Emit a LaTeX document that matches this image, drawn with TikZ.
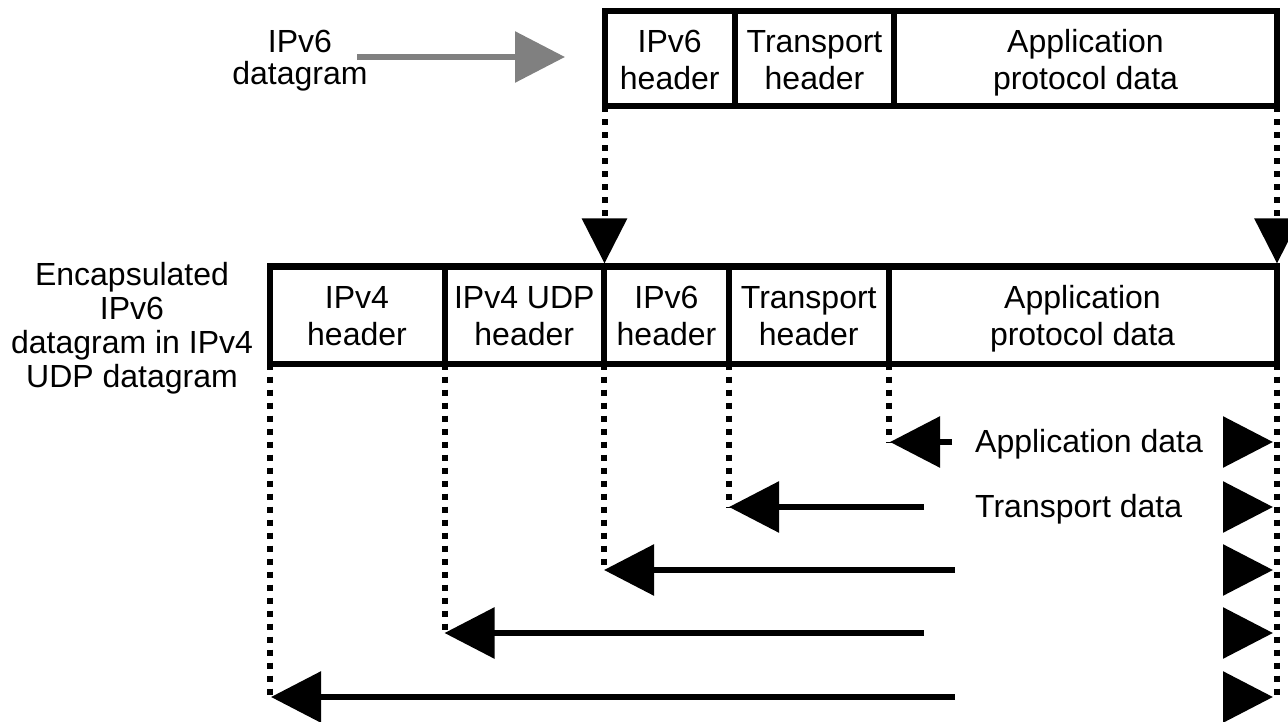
\documentclass[tikz,border=0pt]{standalone}
\usepackage{fontspec}
\setmainfont{Liberation Sans}
\usetikzlibrary{arrows.meta}
\definecolor{feedgray}{RGB}{128,128,128}
% centred multi-line text whose baseline is that of its last line
\newcommand\cellstack[1]{\begin{tabular}[b]{@{}c@{}}#1\end{tabular}}
\tikzset{
  every node/.style={inner sep=0pt, font=\fontsize{32}{37}\selectfont},
  frame/.style={line width=6pt, line join=miter},
  guide/.style={line width=6pt, dash pattern=on 6pt off 7pt},
  bighead/.style={-{Triangle[length=50pt,width=50pt]}},
  downhead/.style={-{Triangle[length=45pt,width=44pt]}},
  span/.style={line width=6pt, bighead},
  loose/.style={font=\fontsize{32}{34}\selectfont},
  tight/.style={font=\fontsize{32}{32}\selectfont},
}
\begin{document}
\begin{tikzpicture}[x=1pt,y=-1pt]
\useasboundingbox (0,0) rectangle (1288,722);

% ---- IPv6 datagram (top) ----
\draw[frame] (604.5,11) rectangle (1277,106.5);
\draw[frame] (735,11) -- (735,106.5) (894,11) -- (894,106.5);
\node[anchor=base] (t6) at (669.75,90) {\cellstack{IPv6\\header}};
\node[anchor=base] (ttr) at (814.5,90) {\cellstack{Transport\\header}};
\node[anchor=base] (tap) at (1085.5,90) {\cellstack{Application\\protocol data}};

\node[anchor=base, tight] (in6) at (300,85) {\cellstack{IPv6\\datagram}};
\coordinate (feedA) at (357,57);
\coordinate (feedB) at (565,57);
\draw[span, draw=feedgray, fill=feedgray] (feedA) -- (feedB);

% ---- encapsulated datagram (bottom) ----
\draw[frame] (269.5,266.5) rectangle (1276.5,363.5);
\draw[frame] (444.5,266.5) -- (444.5,363.5) (604,266.5) -- (604,363.5)
             (729,266.5) -- (729,363.5) (888.5,266.5) -- (888.5,363.5);
\node[anchor=base] (b4) at (357,345) {\cellstack{IPv4\\header}};
\node[anchor=base] (bud) at (524.25,345) {\cellstack{IPv4 UDP\\header}};
\node[anchor=base] (b6) at (666.5,345) {\cellstack{IPv6\\header}};
\node[anchor=base] (btr) at (808.75,345) {\cellstack{Transport\\header}};
\node[anchor=base] (bap) at (1082.5,345) {\cellstack{Application\\protocol data}};

\node[anchor=base, loose] (enc) at (132,387)
  {\cellstack{Encapsulated\\IPv6\\datagram in IPv4\\UDP datagram}};

% ---- mapping of the IPv6 datagram into the payload ----
\coordinate (topL) at (604.5,106.5);
\coordinate (topR) at (1277,106.5);
\coordinate (hitL) at (604.5,263.5);
\coordinate (hitR) at (1277,263.5);
\draw[guide, downhead] (topL) -- (hitL);
\draw[guide, downhead] (topR) -- (hitR);

% ---- extent of each layer's data ----
\coordinate (f0) at (269.5,363.5);
\coordinate (f1) at (444.5,363.5);
\coordinate (f2) at (604,363.5);
\coordinate (f3) at (729,363.5);
\coordinate (f4) at (888.5,363.5);
\coordinate (f5) at (1276.5,363.5);

\coordinate (e0) at (269.5,697);
\coordinate (e1) at (444.5,633);
\coordinate (e2) at (604,570);
\coordinate (e3) at (729,507);
\coordinate (e4) at (888.5,442);
\coordinate (e5) at (1276.5,700);
\foreach \i in {0,...,5} \draw[guide] (f\i) -- (e\i);

\node[anchor=base west] (lapp) at (975,452) {Application data};
\node[anchor=base west] (ltr) at (975,517) {Transport data};

% left ends
\coordinate (sA) at (952,442);  \coordinate (tA) at (890,442);
\coordinate (sT) at (924,507);  \coordinate (tT) at (729,507);
\coordinate (s3) at (955,570);  \coordinate (t3) at (604,570);
\coordinate (s4) at (924,633);  \coordinate (t4) at (444.5,633);
\coordinate (s5) at (955,697);  \coordinate (t5) at (271,697);
\foreach \r in {A,T,3,4,5} \draw[span] (s\r) -- (t\r);

% right ends
\foreach \r/\y in {A/442,T/507,3/570,4/633,5/697}{
  \coordinate (ra\r) at (1223,\y);
  \coordinate (rb\r) at (1273,\y);
  \draw[span] (ra\r) -- (rb\r);
}
\end{tikzpicture}
\end{document}
